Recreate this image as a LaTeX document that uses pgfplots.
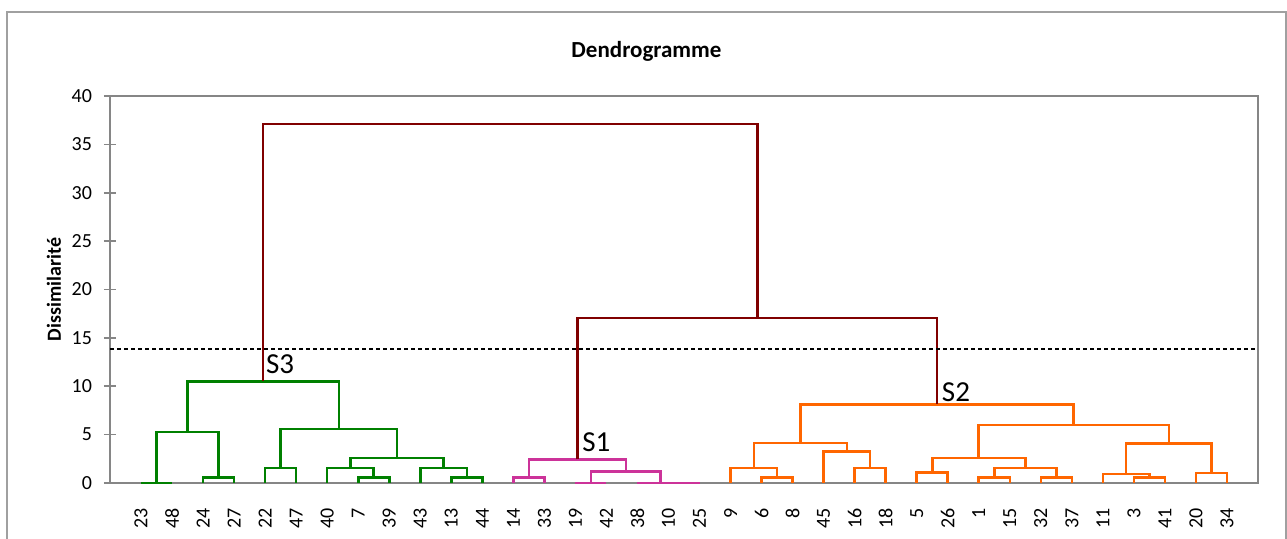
\documentclass[border=0pt]{standalone}
\usepackage{fontspec}
\setmainfont{Carlito}
\usepackage{pgfplots}
\pgfplotsset{compat=1.18}
\definecolor{grp3}{HTML}{008000}
\definecolor{grp1}{HTML}{CC3399}
\definecolor{grp2}{HTML}{FF6600}
\definecolor{toplink}{HTML}{800000}
\definecolor{axisgray}{HTML}{868686}
\definecolor{framegray}{HTML}{A0A0A0}

\begin{document}
\begin{tikzpicture}
\begin{axis}[
    name=ax,
    scale only axis,
    width=574pt, height=193.5pt,
    xmin=0, xmax=37, ymin=0, ymax=40,
    clip=false,
    axis line style={draw=axisgray, line width=1.2pt},
    ytick={0,5,...,40},
    ytick pos=left,
    tick align=center,
    major tick length=6pt,
    major tick style={axisgray, line width=0.8pt},
    xtick={1,...,36},
    xticklabels={23,48,24,27,22,47,40,7,39,43,13,44,14,33,19,42,38,10,25,9,6,8,45,16,18,5,26,1,15,32,37,11,3,41,20,34},
    xtick style={draw=none},
    xticklabel style={rotate=90, anchor=east, inner sep=0pt, font=\fontsize{10}{11}\selectfont},
    xticklabel shift=9.5pt,
    yticklabel style={font=\fontsize{10}{11}\selectfont, xshift=-2.5pt},
    /pgf/number format/assume math mode=true,
    ylabel={Dissimilarité},
    ylabel style={at={(axis description cs:-0.0488,0.5)}, anchor=center,
        font=\fontsize{10}{12}\selectfont\bfseries},
    title={Dendrogramme},
    title style={at={(axis description cs:0.4673,1.085)}, anchor=center,
        font=\fontsize{11.5}{14}\selectfont\bfseries},
    every axis plot/.append style={no marks, line width=1.3pt, sharp plot},
]
% groupe S3
\addplot[grp3] coordinates {(1,0) (2,0)};
\addplot[grp3] coordinates {(3,0) (3,0.55) (4,0.55) (4,0)};
\addplot[grp3] coordinates {(1.5,0) (1.5,5.27) (3.5,5.27) (3.5,0.55)};
\addplot[grp3] coordinates {(5,0) (5,1.55) (6,1.55) (6,0)};
\addplot[grp3] coordinates {(8,0) (8,0.55) (9,0.55) (9,0)};
\addplot[grp3] coordinates {(7,0) (7,1.55) (8.5,1.55) (8.5,0.55)};
\addplot[grp3] coordinates {(11,0) (11,0.55) (12,0.55) (12,0)};
\addplot[grp3] coordinates {(10,0) (10,1.55) (11.5,1.55) (11.5,0.55)};
\addplot[grp3] coordinates {(7.75,1.55) (7.75,2.6) (10.75,2.6) (10.75,1.55)};
\addplot[grp3] coordinates {(5.5,1.55) (5.5,5.58) (9.25,5.58) (9.25,2.6)};
\addplot[grp3] coordinates {(2.5,5.27) (2.5,10.5) (7.375,10.5) (7.375,5.58)};
% groupe S1
\addplot[grp1] coordinates {(13,0) (13,0.55) (14,0.55) (14,0)};
\addplot[grp1] coordinates {(15,0) (16,0)};
\addplot[grp1] coordinates {(17,0) (19,0)};
\addplot[grp1] coordinates {(15.5,0) (15.5,1.17) (17.75,1.17) (17.75,0)};
\addplot[grp1] coordinates {(13.5,0.55) (13.5,2.45) (16.625,2.45) (16.625,1.17)};
% groupe S2
\addplot[grp2] coordinates {(21,0) (21,0.55) (22,0.55) (22,0)};
\addplot[grp2] coordinates {(20,0) (20,1.55) (21.5,1.55) (21.5,0.55)};
\addplot[grp2] coordinates {(24,0) (24,1.55) (25,1.55) (25,0)};
\addplot[grp2] coordinates {(23,0) (23,3.24) (24.5,3.24) (24.5,1.55)};
\addplot[grp2] coordinates {(20.75,1.55) (20.75,4.13) (23.75,4.13) (23.75,3.24)};
\addplot[grp2] coordinates {(26,0) (26,1.07) (27,1.07) (27,0)};
\addplot[grp2] coordinates {(28,0) (28,0.55) (29,0.55) (29,0)};
\addplot[grp2] coordinates {(30,0) (30,0.55) (31,0.55) (31,0)};
\addplot[grp2] coordinates {(28.5,0.55) (28.5,1.55) (30.5,1.55) (30.5,0.55)};
\addplot[grp2] coordinates {(26.5,1.07) (26.5,2.6) (29.5,2.6) (29.5,1.55)};
\addplot[grp2] coordinates {(33,0) (33,0.55) (34,0.55) (34,0)};
\addplot[grp2] coordinates {(32,0) (32,0.93) (33.5,0.93) (33.5,0.55)};
\addplot[grp2] coordinates {(35,0) (35,1.03) (36,1.03) (36,0)};
\addplot[grp2] coordinates {(32.75,0.93) (32.75,4.1) (35.5,4.1) (35.5,1.03)};
\addplot[grp2] coordinates {(28,2.6) (28,6.0) (34.125,6.0) (34.125,4.1)};
\addplot[grp2] coordinates {(22.25,4.13) (22.25,8.13) (31.0625,8.13) (31.0625,6.0)};
% liens superieurs
\addplot[toplink] coordinates {(15.0625,2.45) (15.0625,17.05) (26.65625,17.05) (26.65625,8.13)};
\addplot[toplink] coordinates {(4.9375,10.5) (4.9375,37.1) (20.859375,37.1) (20.859375,17.05)};
% troncature
\addplot[black, line width=0.7pt, dash pattern=on 2pt off 1.5pt] coordinates {(0,13.85) (37,13.85)};
\node[anchor=base west, inner sep=0pt, font=\fontsize{14.5}{17}\selectfont] at (axis cs:5.02,11.3) {S3};
\node[anchor=base west, inner sep=0pt, font=\fontsize{14.5}{17}\selectfont] at (axis cs:15.21,3.24) {S1};
\node[anchor=base west, inner sep=0pt, font=\fontsize{14.5}{17}\selectfont] at (axis cs:26.8,8.47) {S2};
\end{axis}
\pgfresetboundingbox
\path[use as bounding box] ([shift={(-55pt,-28pt)}]ax.south west) rectangle ([shift={(14.5pt,48pt)}]ax.north east);
\draw[framegray, line width=1pt] ([shift={(-51.5pt,-32pt)}]ax.south west) -- ([shift={(-51.5pt,41.75pt)}]ax.north west)
    -- ([shift={(14pt,41.75pt)}]ax.north east) -- ([shift={(14pt,-32pt)}]ax.south east);
\end{tikzpicture}
\end{document}
